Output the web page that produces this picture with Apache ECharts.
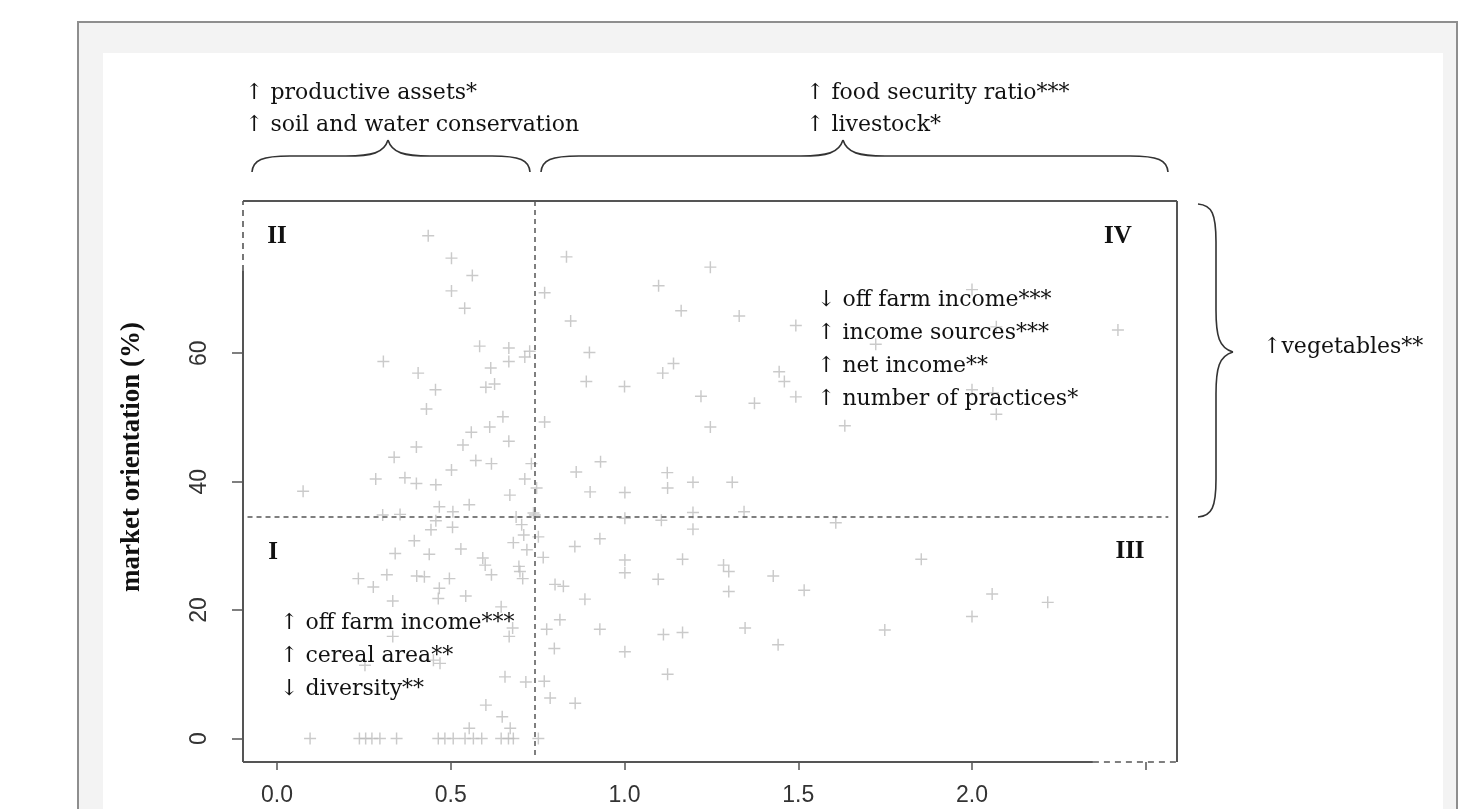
<!DOCTYPE html>
<html><head><meta charset="utf-8">
<script src="https://cdn.jsdelivr.net/npm/echarts@6/dist/echarts.min.js"></script>
<style>
html,body{margin:0;padding:0;background:#fff;overflow:hidden}
#frame{position:absolute;left:77px;top:21px;width:1377px;height:820px;border:2px solid #8e8e8e;background:#f3f3f3}
#inner{position:absolute;left:103px;top:53px;width:1340px;height:780px;background:#fff}
#c{position:absolute;left:0;top:0;width:1474px;height:809px}
</style>
</head><body><div id="frame"></div><div id="inner"></div><div id="c"></div>
<script>
// ---- data (x = farm area index, y = market orientation %) ----
const xTicks = [0, 0.5, 1, 1.5, 2, 2.5];
const xTickLabels = [0, 0.5, 1, 1.5, 2];
const yTicks = [0, 20, 40, 60];
const xCut = 0.743;
const yCut = 34.5;

const quadrantII = [[0.435,78.3],[0.502,74.8],[0.562,72.1],[0.502,69.7],[0.540,67.0],[0.583,61.1],[0.667,60.8],[0.667,58.7],[0.713,59.4],[0.727,60.3],[0.306,58.7],[0.406,56.9],[0.615,57.7],[0.456,54.3],[0.601,54.7],[0.626,55.2],[0.430,51.3],[0.650,50.1],[0.612,48.5],[0.559,47.7],[0.667,46.3],[0.535,45.7],[0.401,45.4],[0.337,43.8],[0.502,41.8],[0.572,43.3],[0.617,42.8],[0.732,42.8],[0.284,40.4],[0.368,40.6],[0.401,39.7],[0.457,39.5],[0.713,40.4],[0.075,38.5],[0.670,37.9],[0.467,36.1],[0.506,35.3],[0.553,36.4],[0.304,34.8],[0.354,34.9],[0.738,35.1],[0.742,34.8]];

const quadrantIV = [[0.833,75.0],[0.770,69.4],[0.845,65.0],[0.770,49.3],[0.861,41.5],[0.747,39.0],[1.247,73.4],[1.098,70.5],[1.163,66.6],[1.330,65.8],[1.493,64.3],[1.723,61.4],[0.899,60.1],[1.141,58.4],[1.110,56.9],[0.890,55.6],[1.000,54.8],[1.445,57.1],[1.460,55.6],[1.220,53.3],[1.374,52.2],[1.493,53.2],[1.247,48.5],[1.634,48.7],[0.931,43.1],[1.123,41.4],[1.197,39.9],[1.310,39.9],[2.420,63.6],[2.000,69.9],[2.070,64.1],[2.000,54.3],[2.060,53.8],[2.070,50.5],[0.901,38.4],[1.001,38.3],[1.124,39.0],[1.197,35.2],[1.344,35.3]];

const quadrantIII = [[1.001,34.3],[1.106,34.0],[1.608,33.6],[1.197,32.6],[0.752,31.4],[0.929,31.1],[0.857,29.9],[0.766,28.2],[1.001,27.8],[1.001,25.8],[1.167,27.9],[1.285,27.0],[1.300,26.0],[1.854,27.9],[1.428,25.3],[1.097,24.8],[0.800,24.0],[0.824,23.7],[1.300,22.9],[1.517,23.1],[0.886,21.7],[0.814,18.5],[0.776,17.0],[0.929,17.0],[1.112,16.2],[1.167,16.5],[1.347,17.2],[1.749,16.9],[1.442,14.6],[0.798,14.0],[1.001,13.5],[1.124,10.0],[0.769,8.9],[0.786,6.3],[0.858,5.5],[0.752,0],[2.000,19.0],[2.058,22.5],[2.218,21.2]];

const quadrantI = [[0.457,33.9],[0.505,32.9],[0.443,32.5],[0.688,34.5],[0.704,33.3],[0.710,31.7],[0.680,30.5],[0.395,30.8],[0.529,29.5],[0.438,28.7],[0.340,28.8],[0.719,29.4],[0.592,28.1],[0.599,27.0],[0.617,25.5],[0.696,26.8],[0.699,26.0],[0.707,24.9],[0.402,25.3],[0.424,25.2],[0.496,24.9],[0.316,25.5],[0.234,24.9],[0.277,23.6],[0.467,23.4],[0.543,22.2],[0.464,21.8],[0.333,21.4],[0.645,20.5],[0.678,17.2],[0.668,15.9],[0.333,15.9],[0.253,11.4],[0.450,12.2],[0.469,11.7],[0.656,9.6],[0.716,8.8],[0.601,5.2],[0.648,3.4],[0.553,1.6],[0.671,1.6],[0.095,0],[0.237,0],[0.255,0],[0.273,0],[0.296,0],[0.344,0],[0.464,0],[0.483,0],[0.507,0],[0.541,0],[0.565,0],[0.589,0],[0.645,0],[0.666,0],[0.680,0]];

const topLeftNote = ['↑ productive assets*', '↑ soil and water conservation'];
const topRightNote = ['↑ food security ratio***', '↑ livestock*'];
const rightNote = '↑vegetables**';
const quadIVNote = ['↓ off farm income***', '↑ income sources***', '↑ net income**', '↑ number of practices*'];
const quadINote = ['↑ off farm income***', '↑ cereal area**', '↓ diversity**'];
const yTitle = 'market orientation (%)';

// ---- layout / style ----
const xMin = -0.098, xMax = 2.59, yMin = -3.66, yMax = 83.7;
const boxColor = '#555';
const serif = '"DejaVu Serif", serif';
const plus = 'path://M4.4 0H5.6V10H4.4Z M0 4.4H10V5.6H0Z';
const braceStyle = { stroke: '#333', lineWidth: 1.6, fill: null };

function seg(a, b, dashed, w) {
  const ls = { color: boxColor, width: w || (dashed ? 1.6 : 2), type: dashed ? [6, 5] : 'solid' };
  return [{ coord: a, lineStyle: ls }, { coord: b, lineStyle: ls }];
}
function cross(a, b) {
  const ls = { color: '#555', width: 1.5, type: [5, 4] };
  return [{ coord: a, lineStyle: ls }, { coord: b, lineStyle: ls }];
}
function bez(p0, c1, c2, p1) {
  return { type: 'bezierCurve', z: 100, silent: true, style: braceStyle,
    shape: { x1: p0[0], y1: p0[1], cpx1: c1[0], cpy1: c1[1], cpx2: c2[0], cpy2: c2[1], x2: p1[0], y2: p1[1] } };
}
function ln(p0, p1) {
  return { type: 'line', z: 100, silent: true, style: braceStyle, shape: { x1: p0[0], y1: p0[1], x2: p1[0], y2: p1[1] } };
}
// horizontal brace pointing up
function hBrace(x1, x2, xm, yEnd, yL, yTip) {
  return [
    bez([x1, yEnd], [x1 + 1, yL + 4], [x1 + 10, yL], [x1 + 38, yL]),
    ln([x1 + 38, yL], [xm - 42, yL]),
    bez([xm - 42, yL], [xm - 16, yL], [xm - 4, yL - 3], [xm, yTip]),
    bez([xm, yTip], [xm + 4, yL - 3], [xm + 16, yL], [xm + 42, yL]),
    ln([xm + 42, yL], [x2 - 38, yL]),
    bez([x2 - 38, yL], [x2 - 10, yL], [x2 - 1, yL + 4], [x2, yEnd])
  ];
}
// vertical brace pointing right
function vBrace(y1, y2, ym, xEnd, xL, xTip) {
  return [
    bez([xEnd, y1], [xL - 4, y1 + 1], [xL, y1 + 10], [xL, y1 + 38]),
    ln([xL, y1 + 38], [xL, ym - 42]),
    bez([xL, ym - 42], [xL, ym - 16], [xL + 3, ym - 4], [xTip, ym]),
    bez([xTip, ym], [xL + 3, ym + 4], [xL, ym + 16], [xL, ym + 42]),
    ln([xL, ym + 42], [xL, y2 - 38]),
    bez([xL, y2 - 38], [xL, y2 - 10], [xL - 4, y2 - 1], [xEnd, y2])
  ];
}
function txt(lines, x, yCenterFirst, lh, font, align) {
  return { type: 'text', z: 100, silent: true, style: { text: lines.join('\n'), x: x, y: yCenterFirst - lh / 2, font: font,
    fill: '#111', textAlign: align || 'left', textVerticalAlign: 'top', lineHeight: lh } };
}

const chart = echarts.init(document.getElementById('c'), null, { renderer: 'canvas', width: 1474, height: 809 });
const pointSeries = (name, data) => ({
  name, type: 'scatter', data, symbol: plus, symbolSize: 12, clip: false, silent: true,
  itemStyle: { color: '#bdbdbd' }, z: 3
});

chart.setOption({
  animation: false,
  backgroundColor: 'transparent',
  grid: { left: 243, top: 201, width: 934, height: 561, show: false },
  xAxis: {
    type: 'value', min: xMin, max: xMax, position: 'bottom',
    axisLine: { show: false, onZero: false }, splitLine: { show: false },
    axisTick: { show: true, inside: false, length: 8, lineStyle: { color: '#555', width: 1.5 }, customValues: xTicks },
    axisLabel: { customValues: xTickLabels, formatter: v => Number(v).toFixed(1), fontFamily: '"Liberation Sans", Arial, sans-serif',
      fontSize: 23, color: '#333', margin: 22 }
  },
  yAxis: {
    type: 'value', min: yMin, max: yMax, position: 'left',
    axisLine: { show: false, onZero: false }, splitLine: { show: false },
    axisTick: { show: true, inside: false, length: 11, lineStyle: { color: '#555', width: 1.5 }, customValues: yTicks },
    axisLabel: { customValues: yTicks, rotate: 90, fontFamily: '"Liberation Sans", Arial, sans-serif',
      fontSize: 23, color: '#333', margin: 32 }
  },
  series: [
    pointSeries('I', quadrantI),
    pointSeries('II', quadrantII),
    pointSeries('III', quadrantIII),
    {
      ...pointSeries('IV', quadrantIV),
      markLine: {
        silent: true, symbol: ['none', 'none'], label: { show: false }, animation: false,
        data: [
          seg([xMin, yMax], [xMax, yMax]),
          seg([xMax, yMax], [xMax, yMin]),
          seg([xMin, yMin], [2.348, yMin]),
          seg([2.348, yMin], [xMax, yMin], true),
          seg([xMin, yMin], [xMin, 72.8]),
          seg([xMin, 72.8], [xMin, yMax], true),
          cross([xCut, yMax], [xCut, -2.9]),
          cross([-0.085, yCut], [2.565, yCut])
        ]
      }
    }
  ],
  graphic: [
    txt(topLeftNote, 245, 93, 32, '22px ' + serif),
    txt(topRightNote, 806, 93, 32, '22px ' + serif),
    txt([rightNote], 1263, 347, 32, '22px ' + serif),
    txt(quadIVNote, 817, 300, 33, '22px ' + serif),
    txt(quadINote, 280, 623, 33, '22px ' + serif),
    txt(['II'], 277, 237, 30, 'bold 25px "Liberation Serif", serif', 'center'),
    txt(['IV'], 1118, 237, 30, 'bold 25px "Liberation Serif", serif', 'center'),
    txt(['I'], 273, 553, 30, 'bold 25px "Liberation Serif", serif', 'center'),
    txt(['III'], 1130, 552, 30, 'bold 25px "Liberation Serif", serif', 'center'),
    ...hBrace(252, 530, 388, 172, 156, 140),
    ...hBrace(541, 1168, 843, 172, 156, 140),
    ...vBrace(204, 517, 352, 1198, 1216, 1233),
    { type: 'text', z: 100, silent: true, x: 132, y: 457, rotation: Math.PI / 2,
      style: { text: yTitle, x: 0, y: 0, textAlign: 'center', textVerticalAlign: 'middle',
        font: 'bold 27px "Liberation Serif", serif', fill: '#111' } }
  ]
});
</script>
</body></html>
